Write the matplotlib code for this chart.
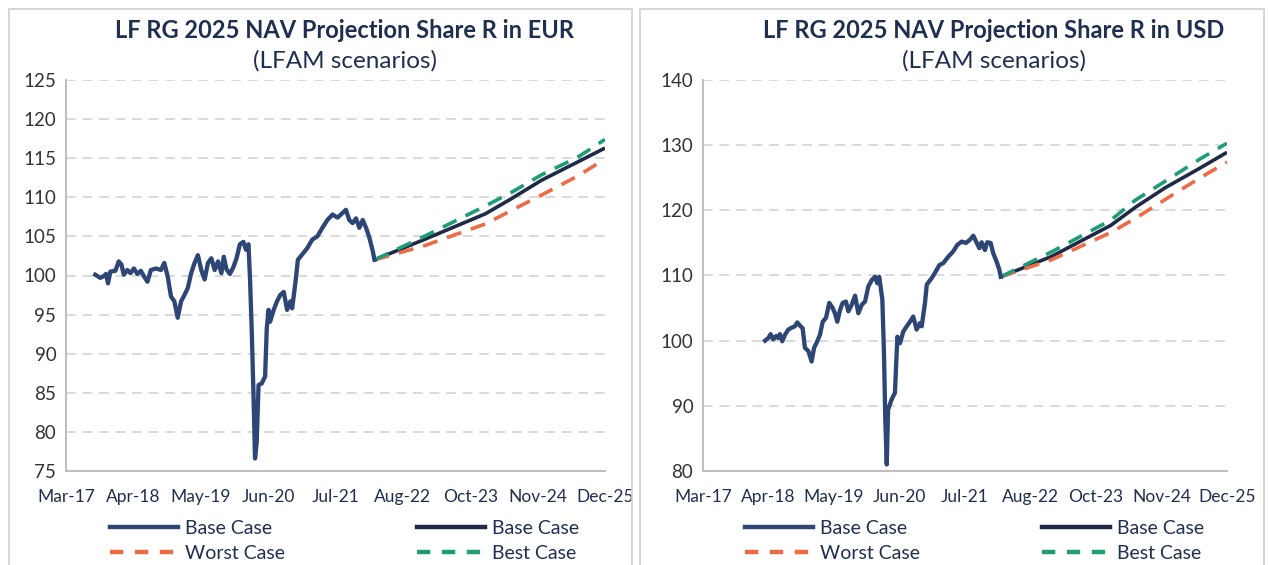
import matplotlib
matplotlib.use('Agg')
import matplotlib.pyplot as plt
import matplotlib.dates as mdates
from matplotlib.patches import Rectangle
from matplotlib.lines import Line2D
import numpy as np

plt.rcParams['font.family'] = ['Lato', 'DejaVu Sans']

# ---- data ----
eur_hist_dates = [
    '2017-08-22', '2017-09-21', '2017-10-11', '2017-10-25', '2017-11-06', '2017-11-20',
    '2017-12-20', '2018-01-09', '2018-01-25', '2018-02-08', '2018-03-01', '2018-03-20',
    '2018-04-09', '2018-04-30', '2018-05-20', '2018-06-08', '2018-06-29', '2018-07-19',
    '2018-08-18', '2018-09-17', '2018-10-07', '2018-10-27', '2018-11-16', '2018-12-06',
    '2018-12-26', '2019-01-15', '2019-02-04', '2019-02-24', '2019-03-16', '2019-04-05',
    '2019-04-25', '2019-05-15', '2019-06-04', '2019-06-24', '2019-07-14', '2019-08-03',
    '2019-08-23', '2019-09-12', '2019-09-26', '2019-10-12', '2019-11-01', '2019-11-21',
    '2019-12-11', '2019-12-31', '2020-01-21', '2020-02-05', '2020-02-20', '2020-02-29',
    '2020-03-10', '2020-03-21', '2020-03-30', '2020-04-09', '2020-04-20', '2020-05-09',
    '2020-05-29', '2020-06-08', '2020-06-19', '2020-06-28', '2020-07-19', '2020-08-08',
    '2020-08-27', '2020-09-17', '2020-10-07', '2020-10-26', '2020-11-06', '2020-11-26',
    '2020-12-10', '2021-01-05', '2021-02-04', '2021-03-06', '2021-04-05', '2021-05-05',
    '2021-06-04', '2021-07-04', '2021-08-03', '2021-09-02', '2021-09-22', '2021-10-12',
    '2021-11-01', '2021-11-21', '2021-12-11', '2021-12-31', '2022-01-20', '2022-02-09',
    '2022-03-01', '2022-03-11',
]
eur_hist_nav = [
    100.1, 99.7, 99.9, 100.2, 99.0, 100.5,
    100.6, 101.8, 101.4, 100.1, 100.7, 100.3,
    100.9, 100.2, 100.6, 99.9, 99.2, 100.7,
    100.9, 100.7, 101.6, 99.9, 97.3, 96.7,
    94.6, 96.7, 97.5, 98.4, 100.3, 101.6,
    102.6, 100.7, 99.5, 101.6, 102.2, 100.7,
    101.8, 100.3, 102.4, 100.8, 100.2, 101.0,
    102.2, 104.0, 104.3, 103.3, 104.0, 99.7,
    93.3, 84.7, 76.6, 78.7, 86.0, 86.2,
    87.1, 93.3, 95.6, 94.1, 95.6, 96.7,
    97.5, 97.9, 95.6, 96.7, 95.8, 99.2,
    102.0, 102.7, 103.5, 104.6, 105.0, 106.1,
    107.1, 107.8, 107.4, 108.0, 108.4, 107.1,
    106.7, 107.3, 106.1, 107.1, 106.1, 104.8,
    103.1, 102.0,
]

eur_proj_dates = ['2022-03-11', '2023-01-01', '2024-01-01', '2024-06-01',
                  '2024-12-01', '2025-07-01', '2025-12-12']
eur_base = [102.0, 104.6, 107.9, 109.8, 112.2, 114.5, 116.3]
eur_worst = [102.0, 103.8, 106.6, 108.3, 110.3, 112.7, 114.9]
eur_best = [102.0, 105.0, 108.9, 110.6, 112.9, 115.1, 117.4]

usd_hist_dates = [
    '2018-03-16', '2018-04-05', '2018-04-19', '2018-05-05', '2018-05-22', '2018-06-05',
    '2018-06-15', '2018-06-29', '2018-07-16', '2018-08-05', '2018-08-26', '2018-09-15',
    '2018-09-29', '2018-10-16', '2018-11-01', '2018-11-15', '2018-12-06', '2018-12-26',
    '2019-01-10', '2019-01-26', '2019-02-15', '2019-03-04', '2019-03-24', '2019-04-13',
    '2019-05-04', '2019-05-18', '2019-06-01', '2019-06-18', '2019-07-04', '2019-07-24',
    '2019-08-08', '2019-08-28', '2019-09-18', '2019-10-08', '2019-10-29', '2019-11-18',
    '2019-12-08', '2019-12-29', '2020-01-18', '2020-02-01', '2020-02-13', '2020-03-03',
    '2020-03-13', '2020-03-21', '2020-03-30', '2020-04-07', '2020-04-29', '2020-05-19',
    '2020-06-03', '2020-06-19', '2020-07-09', '2020-07-30', '2020-08-19', '2020-09-08',
    '2020-09-29', '2020-10-19', '2020-10-30', '2020-11-19', '2020-11-30', '2020-12-30',
    '2021-01-19', '2021-02-15', '2021-03-11', '2021-04-11', '2021-05-11', '2021-06-05',
    '2021-07-02', '2021-07-28', '2021-08-22', '2021-09-11', '2021-10-02', '2021-10-18',
    '2021-11-01', '2021-11-21', '2021-12-05', '2021-12-26', '2022-01-11', '2022-02-01',
    '2022-02-17', '2022-02-26',
]
usd_hist_nav = [
    100.0, 100.4, 101.0, 100.2, 100.7, 100.4,
    101.0, 99.9, 100.9, 101.7, 102.0, 102.2,
    102.8, 102.3, 101.9, 98.9, 98.4, 96.8,
    98.9, 99.7, 100.9, 102.9, 103.5, 105.8,
    105.0, 104.2, 102.9, 104.7, 105.8, 106.0,
    104.5, 105.5, 106.9, 104.2, 105.5, 106.0,
    108.3, 109.3, 109.8, 108.8, 109.8, 106.3,
    98.1, 87.9, 81.0, 89.4, 91.0, 92.0,
    100.6, 99.6, 101.4, 102.2, 102.9, 103.7,
    101.7, 102.7, 102.2, 105.8, 108.6, 109.6,
    110.4, 111.6, 111.9, 112.9, 113.7, 114.7,
    115.2, 115.0, 115.5, 116.1, 115.0, 114.2,
    115.1, 113.9, 115.1, 115.0, 113.4, 112.1,
    110.9, 109.8,
]

usd_proj_dates = ['2022-02-26', '2023-01-01', '2024-01-01', '2024-06-01',
                  '2024-12-01', '2025-07-01', '2025-12-12']
usd_base = [109.8, 112.9, 117.7, 120.5, 123.5, 126.5, 128.9]
usd_worst = [109.8, 112.4, 116.6, 118.8, 121.7, 125.0, 127.4]
usd_best = [109.8, 113.6, 118.5, 121.6, 124.5, 127.9, 130.3]

titles = ['LF RG 2025 NAV Projection Share R in EUR',
          'LF RG 2025 NAV Projection Share R in USD']
subtitle = '(LFAM scenarios)'
eur_yticks = [75, 80, 85, 90, 95, 100, 105, 110, 115, 120, 125]
usd_yticks = [80, 90, 100, 110, 120, 130, 140]

# ---- style ----
C_HIST = '#2e4676'
C_BASE = '#1f2a47'
C_WORST = '#ef6a45'
C_BEST = '#1e9b77'
C_TEXT = '#1f2f4f'
C_GRID = '#d9d9d9'
C_AXIS = '#bfbfbf'

W, H = 1268, 565
fig = plt.figure(figsize=(W / 100, H / 100), dpi=100)

x_start = mdates.date2num(np.datetime64('2017-03-01'))
step = 401  # days between axis labels
xticks = [x_start + k * step for k in range(9)]


def px(x0, y0, w, h):
    return [x0 / W, 1 - (y0 + h) / H, w / W, h / H]


def panel(rect, hist_d, hist_v, proj_d, base, worst, best, yticks, leg_x, colsp):
    ax = fig.add_axes(rect)
    hd = np.array(hist_d, dtype='datetime64[D]')
    pd_ = np.array(proj_d, dtype='datetime64[D]')
    ax.plot(pd_, base, color=C_BASE, lw=2.6, solid_capstyle='butt', zorder=3)
    ax.plot(pd_, worst, color=C_WORST, lw=2.6, dashes=(4.2, 2.8), zorder=3)
    ax.plot(pd_, best, color=C_BEST, lw=2.6, dashes=(4.2, 2.8), zorder=4)
    ax.plot(hd, hist_v, color=C_HIST, lw=3.1, solid_joinstyle='round', zorder=5)

    ax.set_xlim(xticks[0], xticks[-1])
    ax.set_ylim(yticks[0], yticks[-1])
    ax.set_xticks(xticks)
    ax.xaxis.set_major_formatter(mdates.DateFormatter('%b-%y'))
    ax.set_yticks(yticks)
    ax.tick_params(length=0, colors='#333333')
    ax.tick_params(axis='x', pad=13, labelsize=12.5)
    ax.tick_params(axis='y', pad=7, labelsize=13.5)
    for lab in ax.get_xticklabels():
        lab.set_color(C_TEXT)
    ax.grid(axis='y', color=C_GRID, lw=1.4, dashes=(5, 3.5))
    ax.grid(axis='x', visible=False)
    for s in ['top', 'right']:
        ax.spines[s].set_visible(False)
    for s in ['left', 'bottom']:
        ax.spines[s].set_color(C_AXIS)
        ax.spines[s].set_linewidth(1.5)

    handles = [
        Line2D([], [], color=C_HIST, lw=3.2),
        Line2D([], [], color=C_WORST, lw=3.2, dashes=(3, 2.6)),
        Line2D([], [], color=C_BASE, lw=3.2),
        Line2D([], [], color=C_BEST, lw=3.2, dashes=(3, 2.6)),
    ]
    labels = ['Base Case', 'Worst Case', 'Base Case', 'Best Case']
    fig.legend(handles, labels, loc='upper left', ncol=2, frameon=False,
               bbox_to_anchor=(leg_x / W, 1 - 520 / H), bbox_transform=fig.transFigure,
               fontsize=14, handlelength=3.5, handletextpad=0.35, columnspacing=colsp,
               labelspacing=0.42, borderpad=0, borderaxespad=0,
               labelcolor=C_TEXT)
    return ax


# panel frames
fig.patches.append(Rectangle((9 / W, -0.1), 623 / W, 1.1 - 9 / H, transform=fig.transFigure,
                             fill=False, edgecolor='#d0d0d0', lw=1.2))
fig.patches.append(Rectangle((640 / W, -0.1), 624 / W, 1.1 - 9 / H, transform=fig.transFigure,
                             fill=False, edgecolor='#d0d0d0', lw=1.2))

panel(px(66, 80, 539, 391), eur_hist_dates, eur_hist_nav, eur_proj_dates,
      eur_base, eur_worst, eur_best, eur_yticks, 110, 6.8)
panel(px(703, 80, 524, 391), usd_hist_dates, usd_hist_nav, usd_proj_dates,
      usd_base, usd_worst, usd_best, usd_yticks, 745, 6.3)

for tx, t in zip([345, 994], titles):
    fig.text(tx / W, 1 - 30 / H, t, ha='center', va='center', fontsize=17,
             fontweight='bold', color=C_TEXT)
    fig.text(tx / W, 1 - 61 / H, subtitle, ha='center', va='center', fontsize=17.5,
             color=C_TEXT)

fig.savefig('out.png', dpi=100)
